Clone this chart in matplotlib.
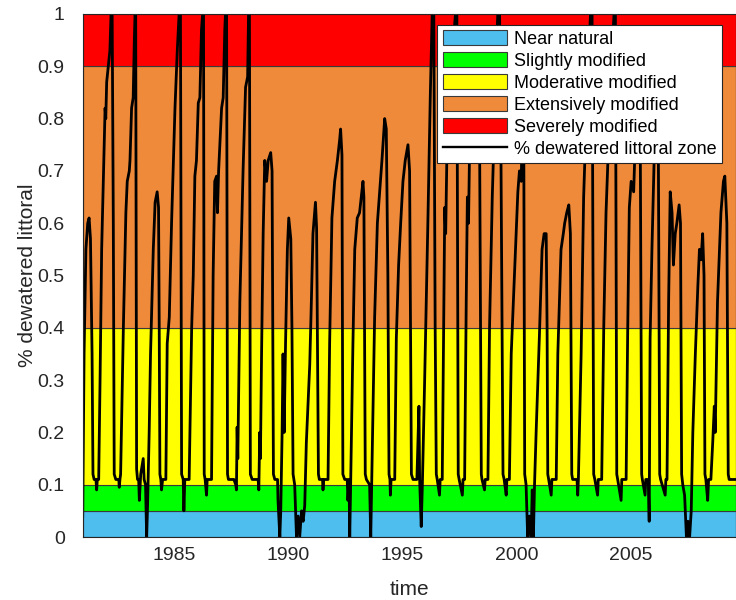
import numpy as np
import matplotlib
matplotlib.use("Agg")
import matplotlib.pyplot as plt
from matplotlib.patches import Patch
from matplotlib.lines import Line2D

plt.rcParams["font.family"] = ["Liberation Sans", "DejaVu Sans"]

# condition classes (lower / upper bound of each band)
class_names = ["Near natural", "Slightly modified", "Moderative modified",
               "Extensively modified", "Severely modified"]
class_lo = [0.0, 0.05, 0.1, 0.4, 0.9]
class_hi = [0.05, 0.1, 0.4, 0.9, 1.0]
class_colors = ["#4DBEEE", "#00FF00", "#FFFF00", "#EE8A3A", "#FF0000"]

# % dewatered littoral zone (decimal year, fraction)
t = [
    1981.00, 1981.06, 1981.14, 1981.22, 1981.28, 1981.34, 1981.41, 1981.45,
    1981.50, 1981.58, 1981.61, 1981.64, 1981.70,
    1981.76, 1981.83, 1981.98, 1982.01, 1982.05, 1982.12, 1982.19, 1982.24, 1982.29, 1982.34, 1982.38,
    1982.45, 1982.58, 1982.60, 1982.63,
    1982.66, 1982.78, 1982.89, 1982.95, 1983.04, 1983.07, 1983.14, 1983.21, 1983.26, 1983.29, 1983.32, 1983.36,
    1983.40, 1983.45, 1983.48, 1983.54, 1983.65, 1983.69, 1983.75, 1983.80, 1983.84,
    1983.91, 1983.97, 1984.09, 1984.17, 1984.26, 1984.32, 1984.35, 1984.38,
    1984.42, 1984.45, 1984.50, 1984.64,
    1984.70, 1984.79, 1984.89, 1985.04, 1985.14, 1985.22, 1985.28, 1985.33,
    1985.40, 1985.43, 1985.47, 1985.66,
    1985.77, 1985.84, 1985.91, 1985.98, 1986.06, 1986.13, 1986.20, 1986.25, 1986.29, 1986.32,
    1986.36, 1986.42, 1986.45, 1986.64,
    1986.71, 1986.78, 1986.86, 1986.90, 1986.95, 1987.08, 1987.15, 1987.22, 1987.25, 1987.30, 1987.34,
    1987.38, 1987.62, 1987.70, 1987.73, 1987.76, 1987.79,
    1987.88, 1988.02, 1988.13, 1988.22, 1988.26, 1988.30, 1988.34,
    1988.42, 1988.68, 1988.71, 1988.75, 1988.78,
    1988.83, 1988.90, 1988.97, 1989.05, 1989.12, 1989.23, 1989.29, 1989.35,
    1989.41, 1989.53, 1989.55, 1989.63, 1989.67,
    1989.73, 1989.77, 1989.82, 1989.88, 1989.96, 1990.02, 1990.11, 1990.16, 1990.21,
    1990.28, 1990.36, 1990.43, 1990.50, 1990.58, 1990.65, 1990.72,
    1990.79, 1990.94, 1991.01, 1991.08, 1991.19, 1991.24, 1991.29, 1991.32,
    1991.36, 1991.50, 1991.52, 1991.55, 1991.74,
    1991.81, 1991.91, 1992.03, 1992.15, 1992.25, 1992.29, 1992.35, 1992.39,
    1992.47, 1992.58, 1992.61, 1992.66, 1992.69, 1992.73,
    1992.83, 1992.91, 1993.02, 1993.12, 1993.27, 1993.31, 1993.37,
    1993.42, 1993.56, 1993.61, 1993.65,
    1993.78, 1993.90, 1994.00, 1994.10, 1994.22, 1994.29, 1994.36, 1994.41,
    1994.45, 1994.47, 1994.50, 1994.66,
    1994.73, 1994.83, 1994.92, 1995.02, 1995.12, 1995.24, 1995.31, 1995.39,
    1995.46, 1995.63, 1995.72, 1995.75, 1995.82, 1995.87,
    1995.97, 1996.11, 1996.22, 1996.30, 1996.37, 1996.43, 1996.48,
    1996.52, 1996.62, 1996.65, 1996.74,
    1996.81, 1996.85, 1996.89, 1996.94, 1997.13, 1997.32, 1997.38, 1997.44,
    1997.48, 1997.62, 1997.65, 1997.72,
    1997.79, 1997.84, 1997.89, 1997.93, 1998.15, 1998.30, 1998.37, 1998.45,
    1998.48, 1998.59, 1998.62, 1998.74,
    1998.81, 1998.93, 1999.03, 1999.13, 1999.17, 1999.25, 1999.30, 1999.40,
    1999.45, 1999.54, 1999.57, 1999.68,
    1999.76, 1999.95, 2000.05, 2000.12, 2000.20, 2000.24, 2000.27, 2000.31, 2000.35,
    2000.41, 2000.48, 2000.56, 2000.63, 2000.68, 2000.73, 2000.78,
    2000.85, 2000.99, 2001.11, 2001.20, 2001.29, 2001.33, 2001.36,
    2001.40, 2001.51, 2001.54, 2001.73,
    2001.80, 2001.94, 2002.04, 2002.10, 2002.19, 2002.28, 2002.35, 2002.41,
    2002.45, 2002.64, 2002.67, 2002.70,
    2002.82, 2002.93, 2003.08, 2003.23, 2003.30, 2003.37,
    2003.42, 2003.54, 2003.57, 2003.72,
    2003.81, 2003.91, 2004.06, 2004.20, 2004.26, 2004.32, 2004.38,
    2004.42, 2004.57, 2004.60, 2004.79,
    2004.86, 2004.93, 2005.01, 2005.12, 2005.22, 2005.34, 2005.41, 2005.47,
    2005.50, 2005.62, 2005.65, 2005.76, 2005.80,
    2005.84, 2005.92, 2006.06, 2006.13, 2006.20, 2006.26,
    2006.30, 2006.50, 2006.53, 2006.58,
    2006.65, 2006.72, 2006.80, 2006.86, 2006.94, 2007.01, 2007.11, 2007.17, 2007.22,
    2007.27, 2007.35, 2007.43, 2007.50, 2007.57, 2007.64,
    2007.71, 2007.82, 2007.93, 2008.00, 2008.07, 2008.14, 2008.20, 2008.24,
    2008.28, 2008.36, 2008.40, 2008.50,
    2008.58, 2008.65, 2008.69, 2008.79, 2008.94, 2009.05, 2009.11, 2009.20, 2009.26,
    2009.30, 2009.60,
]
dewatered = [
    0.04, 0.35, 0.55, 0.60, 0.61, 0.57, 0.35, 0.12,
    0.11, 0.11, 0.09, 0.11, 0.11,
    0.30, 0.55, 0.82, 0.80, 0.87, 0.90, 0.93, 1.00, 1.00, 0.60, 0.12,
    0.11, 0.11, 0.095, 0.11,
    0.12, 0.40, 0.62, 0.68, 0.70, 0.72, 0.82, 0.84, 0.95, 1.00, 1.00, 0.13,
    0.11, 0.11, 0.07, 0.12, 0.15, 0.11, 0.10, 0.00, 0.06,
    0.20, 0.35, 0.55, 0.64, 0.66, 0.63, 0.40, 0.12,
    0.11, 0.09, 0.11, 0.11,
    0.37, 0.42, 0.60, 0.82, 0.93, 1.00, 1.00, 0.12,
    0.11, 0.05, 0.11, 0.11,
    0.40, 0.50, 0.69, 0.72, 0.83, 0.84, 0.97, 1.00, 1.00, 0.12,
    0.11, 0.08, 0.11, 0.11,
    0.50, 0.68, 0.69, 0.62, 0.70, 0.82, 0.84, 0.97, 1.00, 1.00, 0.12,
    0.11, 0.11, 0.10, 0.09, 0.21, 0.15,
    0.45, 0.70, 0.86, 0.88, 1.00, 1.00, 0.12,
    0.11, 0.11, 0.09, 0.20, 0.15,
    0.35, 0.58, 0.72, 0.68, 0.72, 0.735, 0.70, 0.12,
    0.11, 0.11, 0.07, 0.00, 0.05,
    0.20, 0.35, 0.20, 0.37, 0.55, 0.61, 0.57, 0.40, 0.12,
    0.10, 0.00, 0.04, 0.00, 0.05, 0.03, 0.06,
    0.18, 0.33, 0.45, 0.58, 0.64, 0.59, 0.30, 0.12,
    0.11, 0.11, 0.09, 0.11, 0.11,
    0.37, 0.61, 0.68, 0.72, 0.76, 0.78, 0.73, 0.12,
    0.11, 0.11, 0.07, 0.11, 0.00, 0.10,
    0.37, 0.55, 0.61, 0.62, 0.68, 0.65, 0.12,
    0.11, 0.10, 0.00, 0.10,
    0.42, 0.60, 0.66, 0.72, 0.80, 0.78, 0.50, 0.12,
    0.11, 0.08, 0.11, 0.11,
    0.38, 0.52, 0.60, 0.68, 0.72, 0.75, 0.70, 0.12,
    0.11, 0.11, 0.25, 0.11, 0.02, 0.10,
    0.30, 0.60, 0.85, 1.00, 1.00, 0.40, 0.12,
    0.11, 0.08, 0.11, 0.11,
    0.45, 0.63, 0.58, 0.72, 0.90, 1.00, 1.00, 0.12,
    0.11, 0.08, 0.11, 0.11,
    0.45, 0.65, 0.60, 0.72, 0.85, 0.88, 0.80, 0.12,
    0.11, 0.09, 0.11, 0.11,
    0.40, 0.65, 0.80, 0.95, 1.00, 1.00, 0.80, 0.12,
    0.11, 0.08, 0.11, 0.11,
    0.35, 0.55, 0.66, 0.70, 0.68, 0.80, 0.85, 0.75, 0.12,
    0.10, 0.00, 0.04, 0.00, 0.09, 0.00, 0.10,
    0.20, 0.38, 0.55, 0.58, 0.58, 0.40, 0.12,
    0.11, 0.08, 0.11, 0.11,
    0.35, 0.55, 0.58, 0.60, 0.62, 0.635, 0.58, 0.12,
    0.11, 0.11, 0.08, 0.11,
    0.35, 0.65, 0.85, 1.00, 1.00, 0.12,
    0.11, 0.08, 0.11, 0.11,
    0.40, 0.62, 0.80, 0.95, 1.00, 1.00, 0.12,
    0.11, 0.07, 0.11, 0.11,
    0.40, 0.63, 0.68, 0.66, 0.80, 0.86, 0.75, 0.12,
    0.11, 0.08, 0.11, 0.11, 0.03,
    0.38, 0.55, 0.80, 0.87, 0.75, 0.12,
    0.11, 0.08, 0.11, 0.11,
    0.45, 0.66, 0.62, 0.52, 0.58, 0.60, 0.635, 0.60, 0.12,
    0.10, 0.08, 0.00, 0.03, 0.00, 0.05,
    0.20, 0.35, 0.48, 0.55, 0.53, 0.58, 0.50, 0.12,
    0.11, 0.07, 0.11, 0.11,
    0.18, 0.25, 0.20, 0.45, 0.62, 0.68, 0.69, 0.60, 0.12,
    0.11, 0.11,
]

x_ticks = [1985, 1990, 1995, 2000, 2005]
y_ticks = [0, 0.1, 0.2, 0.3, 0.4, 0.5, 0.6, 0.7, 0.8, 0.9, 1]

fig = plt.figure(figsize=(7.36, 6.0), dpi=100)
ax = fig.add_axes([82.7 / 736, 63 / 600, (736 - 82.7) / 736, 523 / 600])

for lo, hi, c in zip(class_lo, class_hi, class_colors):
    ax.axhspan(lo, hi, facecolor=c, edgecolor="#3a3a3a", linewidth=0.8, zorder=1)

ax.plot(t, dewatered, color="black", linewidth=2.0, zorder=3)

ax.set_xlim(1981.0, 2009.6)
ax.set_ylim(0, 1)
ax.set_xticks(x_ticks)
ax.set_yticks(y_ticks)
ax.set_yticklabels(["0", "0.1", "0.2", "0.3", "0.4", "0.5", "0.6", "0.7", "0.8", "0.9", "1"])
ax.tick_params(length=0, labelsize=14, colors="#262626")
ax.tick_params(axis="x", pad=7)
ax.tick_params(axis="y", pad=13)
for s in ax.spines.values():
    s.set_color("#262626")
    s.set_linewidth(0.8)
    s.set_zorder(4)

ax.set_xlabel("time", fontsize=15, color="#262626", labelpad=12)
ax.set_ylabel("% dewatered littoral", fontsize=15, color="#262626", labelpad=0)

handles = [Patch(facecolor=c, edgecolor="#3a3a3a", linewidth=0.8) for c in class_colors]
handles.append(Line2D([], [], color="black", linewidth=1.7))
labels = class_names + ["% dewatered littoral zone"]
leg = ax.legend(handles, labels, loc="upper right", bbox_to_anchor=(0.9786, 0.979),
                borderaxespad=0, fontsize=13, frameon=True, fancybox=False,
                framealpha=1, edgecolor="#262626", handlelength=3.55, handleheight=0.85,
                handletextpad=0.4, labelspacing=0.25, borderpad=0.3)
leg.get_frame().set_linewidth(0.8)
leg.set_zorder(5)

fig.savefig("out.png", dpi=100)
